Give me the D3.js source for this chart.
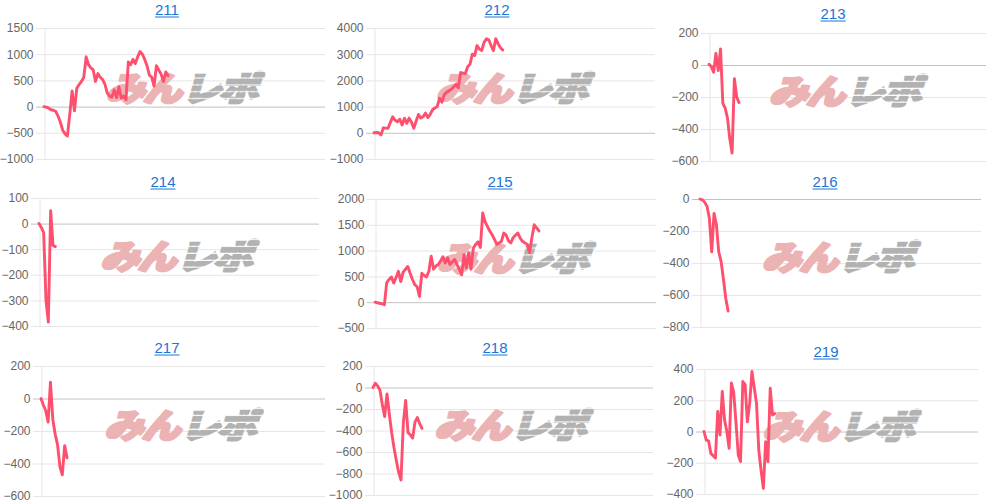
<!doctype html>
<html lang="ja">
<head>
<meta charset="utf-8">
<title>211-219</title>
<script src="https://cdn.jsdelivr.net/npm/d3@7"></script>
<style>
  body { margin: 0; background: #fff; }
  svg { display: block; }
</style>
</head>
<body>
<svg id="chart" width="991" height="503"></svg>
<script>
// panel names
var names = ["211", "212", "213", "214", "215", "216", "217", "218", "219"];

// y tick labels for each panel
var ticks211 = [1500, 1000, 500, 0, -500, -1000];
var ticks212 = [4000, 3000, 2000, 1000, 0, -1000];
var ticks213 = [200, 0, -200, -400, -600];
var ticks214 = [100, 0, -100, -200, -300, -400];
var ticks215 = [2000, 1500, 1000, 500, 0, -500];
var ticks216 = [0, -200, -400, -600, -800];
var ticks217 = [200, 0, -200, -400, -600];
var ticks218 = [200, 0, -200, -400, -600, -800, -1000];
var ticks219 = [400, 200, 0, -200, -400];

// series values (one per x slot)
var series211 = [0, -10, -30, -60, -70, -90, -180, -300, -450, -520, -560, -150, 300, -80, 350, 420, 480, 560, 950, 800,
  740, 700, 480, 630, 560, 520, 430, 260, 200, 180, 320, 170, 380, 160, 200, 130, 850, 800, 900, 820,
  950, 1050, 1000, 900, 780, 600, 560, 390, 780, 700, 620, 480, 660, 590];
var series212 = [0, 10, 0, -80, 190, 180, 170, 400, 610, 480, 420, 520, 300, 560, 360, 560, 400, 170, 450, 700,
  560, 620, 750, 580, 700, 880, 950, 1000, 1320, 1170, 1450, 1550, 1600, 1660, 1750, 1850, 1720, 2300, 2280, 2260,
  2520, 2620, 3000, 2950, 3330, 3200, 3140, 3450, 3590, 3550, 3330, 3140, 3590, 3400, 3250, 3160];
var series213 = [5, -10, -45, 73, -35, 100, -240, -270, -330, -460, -550, -85, -200, -235];
var series214 = [0, -15, -35, -300, -385, 50, -85, -90];
var series215 = [0, -10, -20, -30, -50, 380, 440, 490, 370, 480, 600, 400, 580, 640, 690, 560, 440, 340, 300, 110,
  560, 520, 490, 600, 890, 640, 700, 730, 800, 880, 760, 860, 730, 780, 830, 730, 640, 530, 920, 660,
  960, 640, 1050, 1120, 1170, 1060, 1730, 1560, 1470, 1380, 1310, 1220, 1120, 1150, 1180, 1340, 1300, 1190, 1150, 1250,
  1300, 1340, 1240, 1180, 1150, 1120, 960, 1250, 1500, 1440, 1380];
var series216 = [0, -5, -20, -45, -120, -330, -90, -160, -330, -390, -500, -620, -700];
var series217 = [0, -40, -75, -145, 100, -130, -220, -285, -420, -470, -290, -365];
var series218 = [0, 40, 15, -25, -160, -270, -60, -250, -420, -560, -680, -790, -860, -330, -120, -420, -440, -470, -320, -280,
  -335, -380];
var series219 = [0, -55, -60, -140, -155, -170, 128, -22, 256, 75, 0, -107, 310, 250, 60, -150, -193, 320, 300, 62,
  180, 384, 280, 180, -120, -250, -364, -65, -193, 277, 106, 115];

var allTicks = [ticks211, ticks212, ticks213, ticks214, ticks215, ticks216, ticks217, ticks218, ticks219];
var allSeries = [series211, series212, series213, series214, series215, series216, series217, series218, series219];

var xSlots = 120; // number of category slots on the x axis

// where each small chart sits on the page
var frames = [
  { left: 44, right: 325, top: 28, bottom: 159, tx: 167, ty: 15 },
  { left: 374, right: 655, top: 28, bottom: 159, tx: 497, ty: 15 },
  { left: 709, right: 986, top: 33, bottom: 161, tx: 833, ty: 19 },
  { left: 39, right: 319, top: 198, bottom: 326, tx: 163, ty: 187 },
  { left: 375, right: 656, top: 199, bottom: 328, tx: 500, ty: 187 },
  { left: 700, right: 981, top: 199, bottom: 327, tx: 825, ty: 187 },
  { left: 41, right: 325, top: 366, bottom: 496, tx: 167, ty: 353 },
  { left: 373, right: 653, top: 366, bottom: 495, tx: 495, ty: 353 },
  { left: 704, right: 978, top: 369, bottom: 494, tx: 826, ty: 357 }
];

var svg = d3.select("#chart");
var font = "'Liberation Sans', Arial, sans-serif";

// striped grey fill for the logo
var defs = svg.append("defs");
var pat = defs.append("pattern").attr("id", "stripes").attr("patternUnits", "userSpaceOnUse")
  .attr("width", 8).attr("height", 8);
pat.append("rect").attr("width", 8).attr("height", 6.5).attr("fill", "#b2b2b2");

names.forEach(function (name, i) {
  var f = frames[i];
  var ticks = allTicks[i];
  var data = allSeries[i];

  var x = d3.scaleLinear().domain([0, xSlots]).range([f.left, f.right]);
  var y = d3.scaleLinear().domain(d3.extent(ticks)).range([f.bottom, f.top]);

  var g = svg.append("g");

  // grid lines
  g.selectAll("line.grid").data(ticks).enter().append("line")
    .attr("x1", f.left - 8).attr("x2", f.right)
    .attr("y1", d => y(d) + 0.5).attr("y2", d => y(d) + 0.5)
    .attr("stroke", d => d === 0 ? "#c2c2c2" : "#e6e6e6")
    .attr("stroke-width", 1);

  // left axis with tick labels
  var axis = d3.axisLeft(y).tickValues(ticks).tickSize(0).tickPadding(11).tickFormat(d3.format("d"));
  var ag = g.append("g").attr("transform", "translate(" + (f.left + 0.5) + ",0)").call(axis);
  ag.select(".domain").attr("stroke", "#e6e6e6");
  ag.selectAll("text").attr("fill", "#666").style("font-family", font).style("font-size", "12px");

  // watermark logo
  var cx = (f.left + f.right) / 2, cy = (f.top + f.bottom) / 2 - 8;
  var wm = g.append("g").attr("transform", "translate(" + cx + "," + cy + ") skewX(-16) scale(1.0,0.86)");
  wm.append("text").attr("x", 0).attr("y", 1).attr("text-anchor", "end").attr("dominant-baseline", "central")
    .style("font-family", "'Noto Sans CJK JP', sans-serif").style("font-weight", 900).style("font-size", "39px")
    .style("letter-spacing", "-2px")
    .attr("fill", "#ebb3b3").attr("stroke", "#ebb3b3").attr("stroke-width", 3.2).attr("stroke-linejoin", "round")
    .text("みん");
  wm.append("text").attr("x", 2).attr("y", 1).attr("text-anchor", "start").attr("dominant-baseline", "central")
    .style("font-family", "'Noto Sans CJK JP', sans-serif").style("font-weight", 900).style("font-size", "39px")
    .style("letter-spacing", "-2px")
    .attr("fill", "url(#stripes)").attr("stroke", "url(#stripes)").attr("stroke-width", 3.2)
    .text("レポ");

  // the line
  var line = d3.line().x((d, j) => x(j)).y(d => y(d));
  g.append("path").datum(data).attr("d", line)
    .attr("fill", "none").attr("stroke", "#ff4f6e").attr("stroke-width", 2.9)
    .attr("stroke-linejoin", "round").attr("stroke-linecap", "round");

  // title (link style)
  var t = g.append("text").attr("x", f.tx).attr("y", f.ty).attr("text-anchor", "middle")
    .style("font-family", font).style("font-size", "15px").attr("fill", "#1c74d4").text(name);
  var w = t.node().getComputedTextLength();
  g.append("line").attr("x1", f.tx - w / 2).attr("x2", f.tx + w / 2)
    .attr("y1", f.ty + 2).attr("y2", f.ty + 2).attr("stroke", "#1c74d4").attr("stroke-width", 1);
});
</script>
</body>
</html>
